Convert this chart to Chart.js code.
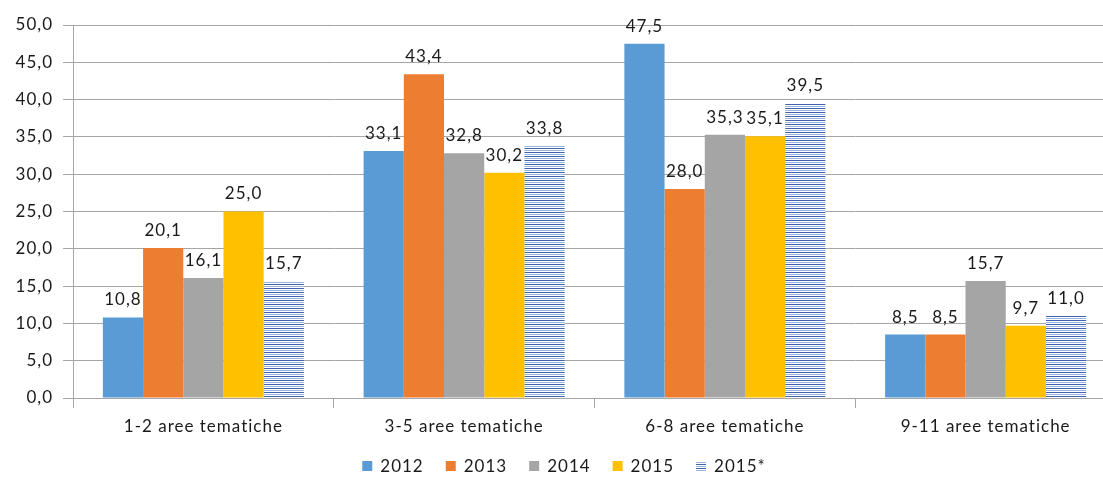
<!DOCTYPE html>
<html>
<head>
<meta charset="utf-8">
<script src="https://cdn.jsdelivr.net/npm/chart.js@4/dist/chart.umd.min.js"></script>
<style>
html,body{margin:0;padding:0;background:#fff;overflow:hidden;}
#wrap{width:1116px;height:477px;position:relative;}
</style>
</head>
<body>
<div id="wrap"><canvas id="c"></canvas></div>
<script>
const categories = ['1-2 aree tematiche', '3-5 aree tematiche', '6-8 aree tematiche', '9-11 aree tematiche'];
const seriesNames = ['2012', '2013', '2014', '2015', '2015*'];
const values2012 = [10.8, 33.1, 47.5, 8.5];
const values2013 = [20.1, 43.4, 28.0, 8.5];
const values2014 = [16.1, 32.8, 35.3, 15.7];
const values2015 = [25.0, 30.2, 35.1, 9.7];
const values2015s = [15.7, 33.8, 39.5, 11.0];
const yTicks = [0, 5, 10, 15, 20, 25, 30, 35, 40, 45, 50];

const FONT = 'Lato';
const fmt = v => v.toFixed(1).replace('.', ',');

function stripePattern() {
  const pc = document.createElement('canvas');
  pc.width = 4; pc.height = 4;
  const p = pc.getContext('2d');
  p.fillStyle = '#ffffff'; p.fillRect(0, 0, 4, 4);
  p.fillStyle = '#3F67B0'; p.fillRect(0, 0, 4, 1);
  p.fillStyle = '#9DB4DE'; p.fillRect(0, 2, 4, 1);
  return p.createPattern(pc, 'repeat');
}
const pattern = stripePattern();
const colors = ['#5B9BD5', '#ED7D31', '#A5A5A5', '#FFC000', pattern];
const allValues = [values2012, values2013, values2014, values2015, values2015s];

const labelPlugin = {
  id: 'labels',
  beforeDraw(chart) { chart.ctx.letterSpacing = '1px'; },
  afterDatasetsDraw(chart) {
    const ctx = chart.ctx;
    ctx.save();
    ctx.letterSpacing = '1px';
    ctx.font = '17px ' + FONT;
    ctx.fillStyle = '#1a1a1a';
    ctx.textAlign = 'center';
    ctx.textBaseline = 'bottom';
    chart.data.datasets.forEach((ds, i) => {
      const meta = chart.getDatasetMeta(i);
      meta.data.forEach((bar, j) => {
        ctx.fillText(fmt(ds.data[j]), bar.x, bar.y - 9);
      });
    });
    ctx.restore();
  },
  afterDraw(chart) {
    // legend
    const ctx = chart.ctx;
    ctx.save();
    ctx.letterSpacing = '1px';
    ctx.font = '17px ' + FONT;
    ctx.textBaseline = 'middle';
    ctx.textAlign = 'left';
    const y = 466;
    const box = 10, gap = 8, itemGap = 22;
    const widths = chart.data.datasets.map(ds => box + gap + ctx.measureText(ds.label).width);
    const total = widths.reduce((a, b) => a + b, 0) + itemGap * (widths.length - 1);
    let x = 564 - total / 2;
    chart.data.datasets.forEach((ds, i) => {
      ctx.fillStyle = ds.backgroundColor;
      ctx.fillRect(x, y - box / 2, box, box);
      ctx.fillStyle = '#1a1a1a';
      ctx.fillText(ds.label, x + box + gap, y + 1);
      x += widths[i] + itemGap;
    });
    ctx.restore();
  }
};

new Chart(document.getElementById('c'), {
  type: 'bar',
  data: {
    labels: categories,
    datasets: seriesNames.map((n, i) => ({
      label: n,
      data: allValues[i],
      backgroundColor: colors[i],
      borderWidth: 0,
      barPercentage: 1,
      categoryPercentage: 0.771
    }))
  },
  plugins: [labelPlugin],
  options: {
    responsive: true,
    maintainAspectRatio: false,
    animation: false,
    layout: { padding: { top: 25, right: 0, bottom: 0, left: 0 } },
    plugins: { legend: { display: false }, tooltip: { enabled: false } },
    scales: {
      x: {
        grid: { drawOnChartArea: false, color: '#A6A6A6', tickLength: 10, offset: true },
        border: { color: '#A6A6A6' },
        ticks: { color: '#1a1a1a', font: { family: FONT, size: 17 }, padding: 8, maxRotation: 0 },
        afterFit(s) { s.height = 79; }
      },
      y: {
        min: 0, max: 50,
        afterBuildTicks(s) { s.ticks = yTicks.map(v => ({ value: v })); },
        grid: { color: '#A6A6A6', tickLength: 10 },
        border: { color: '#A6A6A6' },
        ticks: { color: '#1a1a1a', font: { family: FONT, size: 17 }, padding: 10, callback: v => fmt(v) },
        afterFit(s) { s.width = 73; }
      }
    }
  }
});
</script>
</body>
</html>
